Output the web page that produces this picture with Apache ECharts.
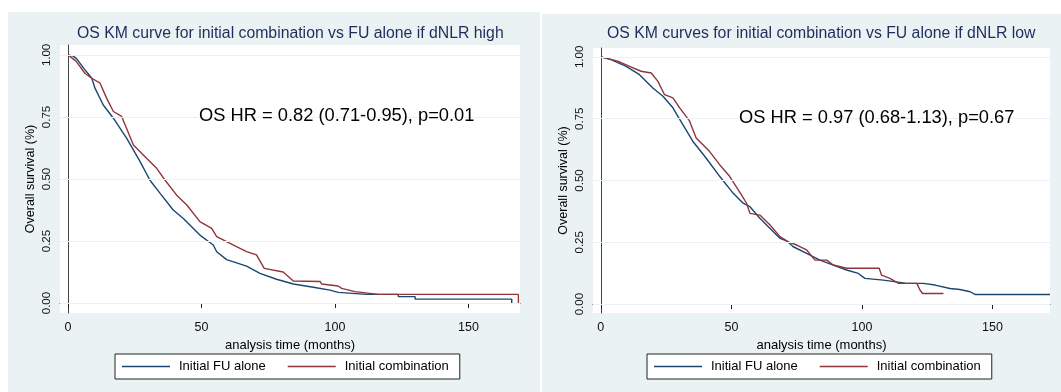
<!DOCTYPE html>
<html>
<head>
<meta charset="utf-8">
<script src="https://cdn.jsdelivr.net/npm/echarts@6/dist/echarts.min.js"></script>
<style>
  html, body { margin: 0; padding: 0; background: #fff; }
  #chart { width: 1061px; height: 392px; }
</style>
</head>
<body>
<div id="chart"></div>
<script>
// KM estimates: [months, survival]
const fuHigh = [[0, 1.0], [2, 0.995], [3.2, 0.985], [6, 0.945], [8.9, 0.906], [10.1, 0.866], [13.2, 0.798], [17, 0.745],
  [22, 0.664], [27, 0.570], [30.7, 0.495], [34.5, 0.442], [39.4, 0.375], [43.2, 0.341], [49.4, 0.274], [54.4, 0.234],
  [55.7, 0.207], [59.4, 0.175], [66.9, 0.149], [71.9, 0.120], [78.1, 0.096], [84.4, 0.077], [91.9, 0.064], [98.1, 0.052],
  [101.2, 0.043], [111.9, 0.035], [123.7, 0.035], [123.7, 0.026], [130, 0.026], [130, 0.016], [166.2, 0.016], [166.2, 0]];
const combHigh = [[0, 1.0], [3, 0.975], [6.4, 0.925], [8.9, 0.906], [12, 0.886], [14.5, 0.825], [17, 0.772], [20.1, 0.752],
  [24.5, 0.637], [29.5, 0.583], [33.2, 0.543], [36.3, 0.496], [40.7, 0.435], [44.5, 0.395], [49.4, 0.328], [53.8, 0.301],
  [55.7, 0.268], [63.1, 0.227], [66.9, 0.207], [70.6, 0.194], [73.5, 0.140], [80.6, 0.125], [84.4, 0.089], [94.4, 0.087],
  [95, 0.077], [101.2, 0.069], [102.5, 0.059], [107.5, 0.046], [116.2, 0.035], [168.7, 0.035], [168.7, 0]];
const fuLow = [[0, 1.0], [3.9, 0.989], [9.7, 0.962], [14.8, 0.928], [19.9, 0.874], [23.8, 0.841], [27.6, 0.794], [31.4, 0.726],
  [35.2, 0.659], [40.3, 0.591], [45.5, 0.517], [50.7, 0.448], [54.5, 0.408], [57.1, 0.394], [60.9, 0.347], [64.8, 0.306],
  [68.6, 0.266], [71.1, 0.256], [73.7, 0.232], [78.8, 0.205], [83.9, 0.178], [89, 0.158], [94.1, 0.138], [98.6, 0.124],
  [101.1, 0.104], [108.2, 0.097], [116.5, 0.085], [123.5, 0.084], [128, 0.077], [133.7, 0.063], [137.5, 0.059],
  [141.4, 0.050], [143.3, 0.039], [172, 0.039]];
const combLow = [[0, 1.0], [6.5, 0.983], [11, 0.962], [15.4, 0.942], [19.3, 0.935], [21.8, 0.902], [24.4, 0.847], [27.6, 0.834],
  [30.2, 0.794], [34, 0.740], [36.5, 0.672], [41.6, 0.618], [45.5, 0.564], [49.3, 0.517], [53.8, 0.443], [55.8, 0.408],
  [57.1, 0.367], [60.9, 0.360], [64.8, 0.320], [68.6, 0.273], [71.8, 0.252], [75, 0.239], [78.8, 0.219], [82, 0.178],
  [86.5, 0.178], [89, 0.158], [94.1, 0.145], [106.6, 0.145], [107.5, 0.117], [110.7, 0.104], [114, 0.084], [121, 0.084],
  [122.2, 0.057], [123.2, 0.043], [131.2, 0.043]];

const xTicks = [0, 50, 100, 150];
const yTicks = [0, 0.25, 0.5, 0.75, 1];
const groupNames = ['Initial FU alone', 'Initial combination'];
const titles = ['OS KM curve for initial combination vs FU alone if dNLR high',
  'OS KM curves for initial combination vs FU alone if dNLR low'];
const hrTexts = ['OS HR = 0.82 (0.71-0.95), p=0.01', 'OS HR = 0.97 (0.68-1.13), p=0.67'];

const FONT = '"Liberation Sans", Arial, sans-serif';
const BLUE = '#1a476f';
const RED = '#90353b';
const BG = '#eaf2f3';

const chart = echarts.init(document.getElementById('chart'));

function xAxisOpt(grid, max) {
  return {
    type: 'value', gridIndex: grid, min: -3, max: max,
    name: 'analysis time (months)', nameLocation: 'middle', nameGap: 21,
    nameTextStyle: { fontFamily: FONT, fontSize: 13, color: '#000' },
    axisLine: { lineStyle: { color: '#222', width: 1 } },
    axisTick: { customValues: xTicks, length: 5, lineStyle: { color: '#222' } },
    axisLabel: { customValues: xTicks, margin: 8, fontFamily: FONT, fontSize: 12.5, color: '#111' },
    splitLine: { show: false }
  };
}
function yAxisOpt(grid, min, max) {
  return {
    type: 'value', gridIndex: grid, min: min, max: max,
    name: 'Overall survival (%)', nameLocation: 'middle', nameGap: 23,
    nameTextStyle: { fontFamily: FONT, fontSize: 12.5, color: '#000' },
    axisLine: { show: true, lineStyle: { color: '#444', width: 1 } },
    axisTick: { show: true, customValues: yTicks, length: 5, lineStyle: { color: '#444' } },
    axisLabel: { customValues: yTicks, rotate: 90, margin: 7, fontFamily: FONT, fontSize: 11.5, color: '#111',
      formatter: v => v.toFixed(2) },
    splitLine: { show: false }
  };
}
function gridLines() {
  return {
    silent: true, symbol: 'none', label: { show: false },
    lineStyle: { color: BG, type: 'solid', width: 1 },
    data: yTicks.map(v => ({ yAxis: v }))
  };
}
function line(name, data, color, idx, withGrid) {
  return {
    type: 'line', name: name, data: data, xAxisIndex: idx, yAxisIndex: idx,
    symbol: 'none', showSymbol: false, smooth: false,
    lineStyle: { color: color, width: 1.4 }, itemStyle: { color: color },
    markLine: withGrid ? gridLines() : undefined,
    z: withGrid ? 2 : 3
  };
}
function legendOpt(left) {
  return {
    left: left, top: 354, orient: 'horizontal',
    data: groupNames.map(n => ({ name: n, icon: 'rect' })), selectedMode: false,
    itemWidth: 48, itemHeight: 1.5, itemGap: 22,
    padding: [6, 11, 6, 7],
    borderColor: '#222', borderWidth: 1, backgroundColor: '#fff',
    textStyle: { fontFamily: FONT, fontSize: 13, color: '#000', padding: [0, 0, 0, 4] }
  };
}

chart.setOption({
  animation: false,
  backgroundColor: '#fff',
  title: titles.map((t, i) => ({
    text: t, left: i === 0 ? 77 : 607, top: 26, padding: 0,
    textStyle: { fontFamily: FONT, fontSize: 15.8, fontWeight: 'normal', color: '#1e2d5c' }
  })),
  graphic: [
    { type: 'rect', z: -10, shape: { x: 8, y: 12, width: 532, height: 380 }, style: { fill: BG } },
    { type: 'rect', z: -10, shape: { x: 542, y: 14, width: 519, height: 378 }, style: { fill: BG } },
    { type: 'rect', z: -9, shape: { x: 60, y: 45, width: 460, height: 268 }, style: { fill: '#fff' } },
    { type: 'rect', z: -9, shape: { x: 593, y: 48, width: 457, height: 265 }, style: { fill: '#fff' } },
    { type: 'text', z: 100, left: 199, top: 107,
      style: { text: hrTexts[0], font: '18.3px ' + FONT, fill: '#000' } },
    { type: 'text', z: 100, left: 739, top: 109,
      style: { text: hrTexts[1], font: '18.3px ' + FONT, fill: '#000' } }
  ],
  legend: [legendOpt(115), legendOpt(647)],
  grid: [
    { left: 60, top: 45, width: 460, height: 268 },
    { left: 593, top: 48, width: 457, height: 265 }
  ],
  xAxis: [xAxisOpt(0, 169.3), xAxisOpt(1, 172)],
  yAxis: [yAxisOpt(0, -0.04, 1.04), yAxisOpt(1, -0.036, 1.036)],
  series: [
    line(groupNames[0], fuHigh, BLUE, 0, true),
    line(groupNames[1], combHigh, RED, 0, false),
    line(groupNames[0], fuLow, BLUE, 1, true),
    line(groupNames[1], combLow, RED, 1, false)
  ]
});
</script>
</body>
</html>
